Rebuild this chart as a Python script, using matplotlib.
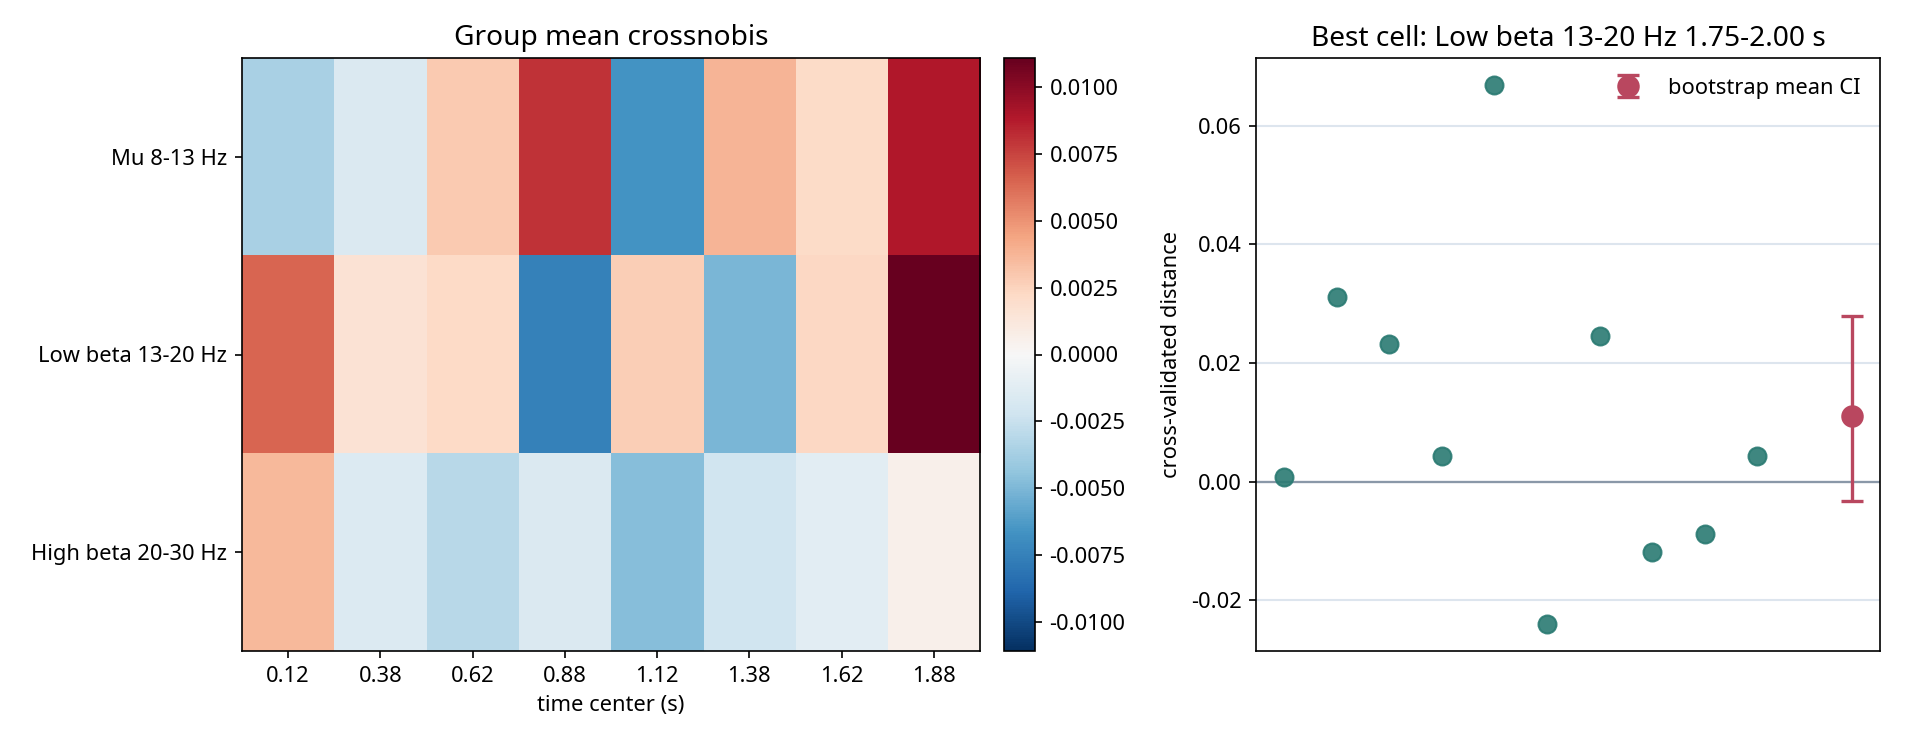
import numpy as np
import matplotlib
matplotlib.use("Agg")
import matplotlib.pyplot as plt

plt.rcParams['font.family'] = ['Noto Sans', 'DejaVu Sans']
plt.rcParams['axes.unicode_minus'] = False

# ---- data ----
bands = ["Mu 8-13 Hz", "Low beta 13-20 Hz", "High beta 20-30 Hz"]
time_centers = ["0.12", "0.38", "0.62", "0.88", "1.12", "1.38", "1.62", "1.88"]
mu_row = [-0.0036, -0.0016, 0.0029, 0.0080, -0.0066, 0.0038, 0.0021, 0.0089]
lowbeta_row = [0.0065, 0.0016, 0.0022, -0.0075, 0.0027, -0.0051, 0.0023, 0.0111]
highbeta_row = [0.0036, -0.0015, -0.0031, -0.0016, -0.0047, -0.0022, -0.0012, 0.0006]

subject_values = [0.0008, 0.0311, 0.0233, 0.0044, 0.0669, -0.0240, 0.0245, -0.0118, -0.0088, 0.0044]
boot_mean = 0.0111
boot_ci_low = -0.0032
boot_ci_high = 0.0280

W, H = 1920, 752
dpi = 150
fig = plt.figure(figsize=(W / dpi, H / dpi), dpi=dpi)

# ---- heatmap ----
grid = np.array([mu_row, lowbeta_row, highbeta_row])
vmax = np.abs(grid).max()
ax1 = fig.add_axes([242 / W, 1 - 651 / H, (980 - 242) / W, (651 - 58) / H])
im = ax1.imshow(grid, cmap="RdBu_r", vmin=-vmax, vmax=vmax, aspect="auto",
                interpolation="nearest")
ax1.set_xticks(np.arange(len(time_centers)))
ax1.set_xticklabels(time_centers, fontsize=10.5)
ax1.set_yticks(np.arange(len(bands)))
ax1.set_yticklabels(bands, fontsize=10.5)
ax1.set_xlabel("time center (s)", fontsize=10.5)
ax1.set_title("Group mean crossnobis", fontsize=13.5)

cax = fig.add_axes([1004 / W, 1 - 651 / H, 31 / W, (651 - 58) / H])
cb = fig.colorbar(im, cax=cax)
cb.set_ticks([-0.01, -0.0075, -0.005, -0.0025, 0.0, 0.0025, 0.005, 0.0075, 0.01])
cb.ax.tick_params(labelsize=10.5)

# ---- best cell ----
ax2 = fig.add_axes([1256 / W, 1 - 651 / H, (1880 - 1256) / W, (651 - 58) / H])
n = len(subject_values)
xs = np.arange(n)
ax2.set_axisbelow(True)
ax2.grid(axis="y", color="#dde5ee", linewidth=1.0)
ax2.axhline(0, color="#8a98a8", linewidth=1.1, zorder=1)
ax2.plot(xs, subject_values, "o", color="#2a7a72", alpha=0.9, markersize=8.6,
         linestyle="none", zorder=3)
mx = n + 0.8
ax2.errorbar([mx], [boot_mean],
             yerr=[[boot_mean - boot_ci_low], [boot_ci_high - boot_mean]],
             fmt="o", color="#b9475f", markersize=9.8, elinewidth=1.6,
             capsize=5.3, capthick=1.6, label="bootstrap mean CI", zorder=4)
ax2.set_xticks([])
ax2.tick_params(axis="y", labelsize=10.5)
ax2.set_ylabel("cross-validated distance", fontsize=10.5)
ax2.set_title("Best cell: Low beta 13-20 Hz 1.75-2.00 s", fontsize=13.5)
ax2.legend(loc="upper right", frameon=False, fontsize=10.5)

fig.savefig("out.png", dpi=dpi)
